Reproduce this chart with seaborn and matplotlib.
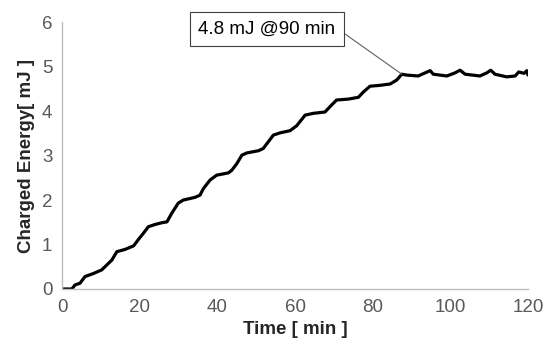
import numpy as np
import pandas as pd
import matplotlib
matplotlib.use("Agg")
import matplotlib.pyplot as plt
import seaborn as sns
from matplotlib.ticker import MultipleLocator

# values
time_min = [0, 2.5, 3.3, 4.6, 5.9, 8.1, 10.2, 11.5, 12.8, 14.1, 16.2, 18.4, 19.7,
            20.9, 22.2, 23.9, 25.7, 27.0, 28.2, 29.9, 31.2, 34.2, 35.5, 36.4, 38.1,
            39.8, 42.8, 43.7, 45.0, 46.3, 47.6, 50.6, 51.8, 53.1, 54.4, 56.1, 58.7,
            60.4, 62.6, 64.7, 67.7, 69.0, 70.7, 73.7, 76.3, 77.6, 79.3, 81.9, 84.5,
            86.2, 87.5, 88.8, 91.7, 93.5, 94.8, 95.6, 99.1, 101.2, 102.5, 103.8,
            107.6, 109.4, 110.4, 111.5, 114.5, 116.7, 117.6, 119.0, 119.7, 120.0]
energy_mj = [0, 0, 0.09, 0.13, 0.28, 0.35, 0.43, 0.54, 0.65, 0.84, 0.89, 0.97, 1.12,
             1.25, 1.40, 1.45, 1.49, 1.51, 1.70, 1.93, 2.00, 2.06, 2.11, 2.26, 2.45,
             2.56, 2.61, 2.67, 2.82, 3.01, 3.06, 3.11, 3.16, 3.31, 3.46, 3.51, 3.56,
             3.67, 3.91, 3.95, 3.98, 4.10, 4.25, 4.27, 4.31, 4.43, 4.56, 4.58, 4.61,
             4.70, 4.83, 4.81, 4.79, 4.86, 4.91, 4.83, 4.79, 4.86, 4.92, 4.83,
             4.79, 4.86, 4.92, 4.83, 4.77, 4.79, 4.88, 4.85, 4.91, 4.81]

note_text = "4.8 mJ @90 min"
note_point = (87.5, 4.83)

df = pd.DataFrame({"time": time_min, "energy": energy_mj})

sns.set_style("white")
plt.rcParams["font.family"] = ["Liberation Sans", "DejaVu Sans"]

fig = plt.figure(figsize=(5.5, 3.52), dpi=100)
ax = fig.add_axes([0.113, 0.179, 0.847, 0.758])

sns.lineplot(data=df, x="time", y="energy", sort=False, color="black",
             linewidth=2.3, ax=ax)

ax.set_xlim(0, 120)
ax.set_ylim(0, 6)
ax.xaxis.set_major_locator(MultipleLocator(20))
ax.xaxis.set_minor_locator(MultipleLocator(5))
ax.yaxis.set_major_locator(MultipleLocator(1))
ax.yaxis.set_minor_locator(MultipleLocator(0.2))
ax.tick_params(which="both", direction="in", length=4, width=0.8,
               color="#bfbfbf", labelsize=13.5, labelcolor="#595959")
ax.tick_params(axis="x", pad=7)
ax.tick_params(axis="y", pad=7)

for side in ["top", "right"]:
    ax.spines[side].set_visible(False)
for side in ["left", "bottom"]:
    ax.spines[side].set_color("#bfbfbf")
    ax.spines[side].set_linewidth(1.0)

ax.set_xlabel("Time [ min ]", fontsize=13.5, fontweight="bold", labelpad=4)
ax.set_ylabel("Charged Energy[ mJ ]", fontsize=13.5, fontweight="bold", labelpad=5)

ax.annotate(note_text, xy=note_point, xytext=(267, 323), textcoords="figure pixels",
            ha="center", va="center", fontsize=13.5, color="black",
            bbox=dict(boxstyle="square,pad=0.45", fc="white", ec="#404040", lw=0.8),
            arrowprops=dict(arrowstyle="-", color="#606060", lw=0.8,
                            relpos=(1.0, 0.6), shrinkA=0, shrinkB=0))

fig.savefig("out.png", dpi=100)
